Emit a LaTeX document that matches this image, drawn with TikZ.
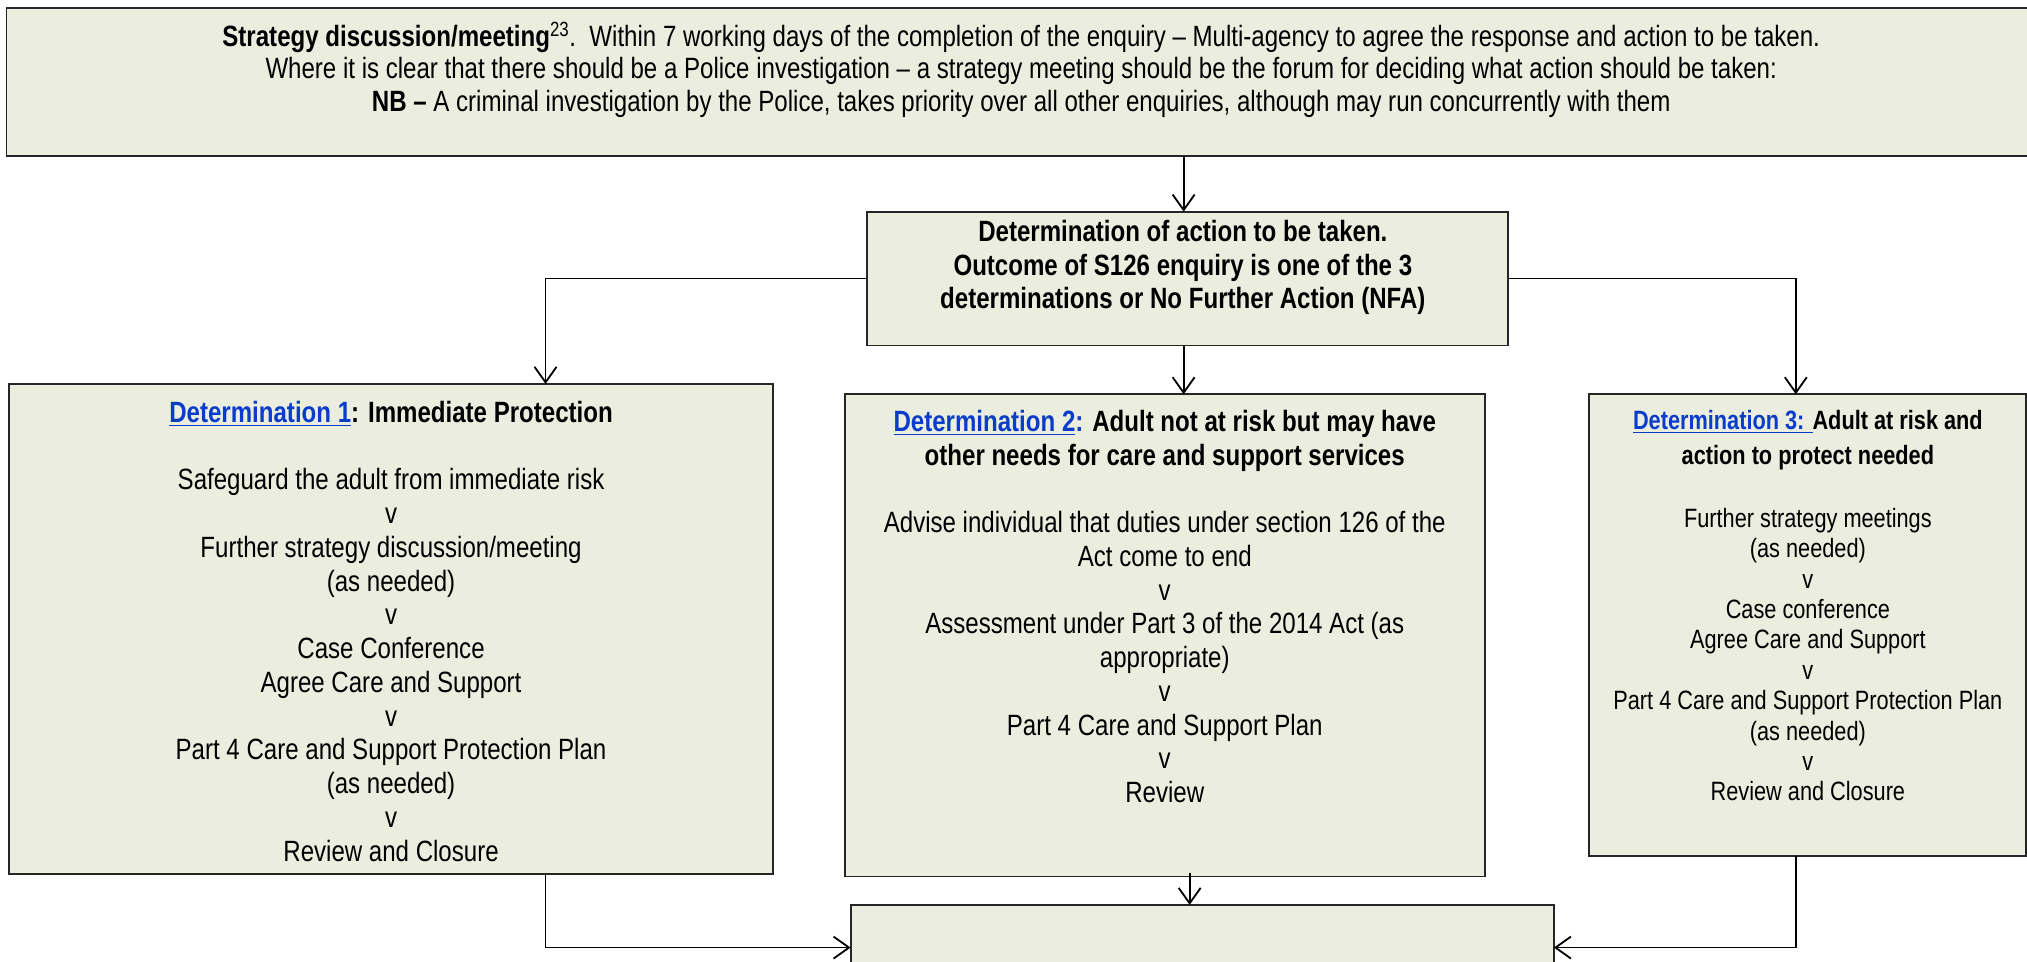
\documentclass[tikz,border=0pt]{standalone}
\usepackage{fontspec}
\setmainfont{Liberation Sans}[FakeStretch=0.82]
\usetikzlibrary{arrows.meta}
\definecolor{boxfill}{HTML}{EBEEDE}
\definecolor{linkblue}{HTML}{0A3CCC}
\newcommand{\detlink}[1]{\textcolor{linkblue}{\underline{#1}}}
\newcommand{\stk}[1]{\begin{tabular}[t]{@{}c@{}}#1\end{tabular}}
\tikzset{
  box/.style={draw=black!85, line width=1.4pt, fill=boxfill, inner sep=0pt, outer sep=0pt, anchor=north west},
  conn/.style={draw=black, line width=1.35pt},
  arr/.style={conn, -{Straight Barb[length=12pt, width=17pt, line width=1.4pt]}},
  txt/.style={anchor=base, inner sep=0pt},
}
\begin{document}
\begin{tikzpicture}[x=1pt, y=-1pt]
\useasboundingbox (0,0) rectangle (1568,744);
\clip (0,0) rectangle (1568,744);
% boxes
\node[box, minimum width=1570pt, minimum height=114.5pt] (top) at (5,6) {};
\node[box, minimum width=496pt, minimum height=103.5pt] (act) at (670.6,163.7) {};
\node[box, minimum width=591pt, minimum height=379pt] (det1) at (7,297) {};
\node[box, minimum width=495.5pt, minimum height=373pt] (det2) at (653.5,305) {};
\node[box, minimum width=337.7pt, minimum height=357pt] (det3) at (1229.3,305) {};
\node[box, minimum width=544pt, minimum height=90pt] (bot) at (658,700) {};
% texts
\node[txt, font=\fontsize{22.7}{25}\selectfont] (toptext) at (790,36)
 {\stk{\textbf{Strategy discussion/meeting}\textsuperscript{23}.\ \ Within 7 working days of the completion of the enquiry – Multi-agency to agree the response and action to be taken.\\
 Where it is clear that there should be a Police investigation – a strategy meeting should be the forum for deciding what action should be taken:\\
 \textbf{NB –} A criminal investigation by the Police, takes priority over all other enquiries, although may run concurrently with them}};
\node[txt, font=\fontsize{22.7}{26}\selectfont\bfseries] (acttext) at (915,187)
 {\stk{Determination of action to be taken.\\ Outcome of S126 enquiry is one of the 3\\ determinations or No Further Action (NFA)}};
\node[txt, font=\fontsize{22.7}{26}\selectfont\bfseries] (d1title) at (302.5,327)
 {\detlink{Determination 1}: Immediate Protection};
\node[txt, font=\fontsize{22.7}{26.1}\selectfont] (d1body) at (302.5,379)
 {\stk{Safeguard the adult from immediate risk\\ v\\ Further strategy discussion/meeting\\ (as needed)\\ v\\ Case Conference\\ Agree Care and Support\\ v\\ Part 4 Care and Support Protection Plan\\ (as needed)\\ v\\ Review and Closure}};
\node[txt, font=\fontsize{22.7}{26}\selectfont\bfseries] (d2title) at (901,334)
 {\stk{\detlink{Determination 2}\textcolor{linkblue}{:} Adult not at risk but may have\\ other needs for care and support services}};
\node[txt, font=\fontsize{22.7}{26.1}\selectfont] (d2body) at (901,412)
 {\stk{Advise individual that duties under section 126 of the\\ Act come to end\\ v\\ Assessment under Part 3 of the 2014 Act (as\\ appropriate)\\ v\\ Part 4 Care and Support Plan\\ v\\ Review}};
\node[txt, font=\fontsize{20.5}{27}\selectfont\bfseries] (d3title) at (1398.5,332.6)
 {\stk{\detlink{Determination 3: }Adult at risk and\\ action to protect needed}};
\node[txt, font=\fontsize{20.5}{23.5}\selectfont] (d3body) at (1398.5,408)
 {\stk{Further strategy meetings\\ (as needed)\\ v\\ Case conference\\ Agree Care and Support\\ v\\ Part 4 Care and Support Protection Plan\\ (as needed)\\ v\\ Review and Closure}};
% connectors
\coordinate (d1s) at ([xshift=119.5pt]det1.south);
\coordinate (botw) at ([yshift=-33pt]bot.north west);
\coordinate (d3s) at ([xshift=-9pt]det3.south);
\coordinate (bote) at ([yshift=-33pt]bot.north east);
\draw[arr] ([xshift=-3pt]act.north |- top.south) -- ([xshift=-3pt]act.north);
\draw[arr] (act.west) -| ([xshift=119.5pt]det1.north);
\draw[arr] (act.east) -| ([xshift=-9pt]det3.north);
\draw[arr] ([xshift=-3pt]act.south) -- ([xshift=-3pt]act.south |- det2.north);
\draw[arr] ([xshift=19pt, yshift=3pt]det2.south) -- ([xshift=19pt]det2.south |- bot.north);
\draw[conn, line width=0.8pt] (d1s) -- (d1s |- botw);
\draw[arr] (d1s |- botw) -- (botw);
\draw[arr] (d3s) |- (bote);
\end{tikzpicture}
\end{document}
